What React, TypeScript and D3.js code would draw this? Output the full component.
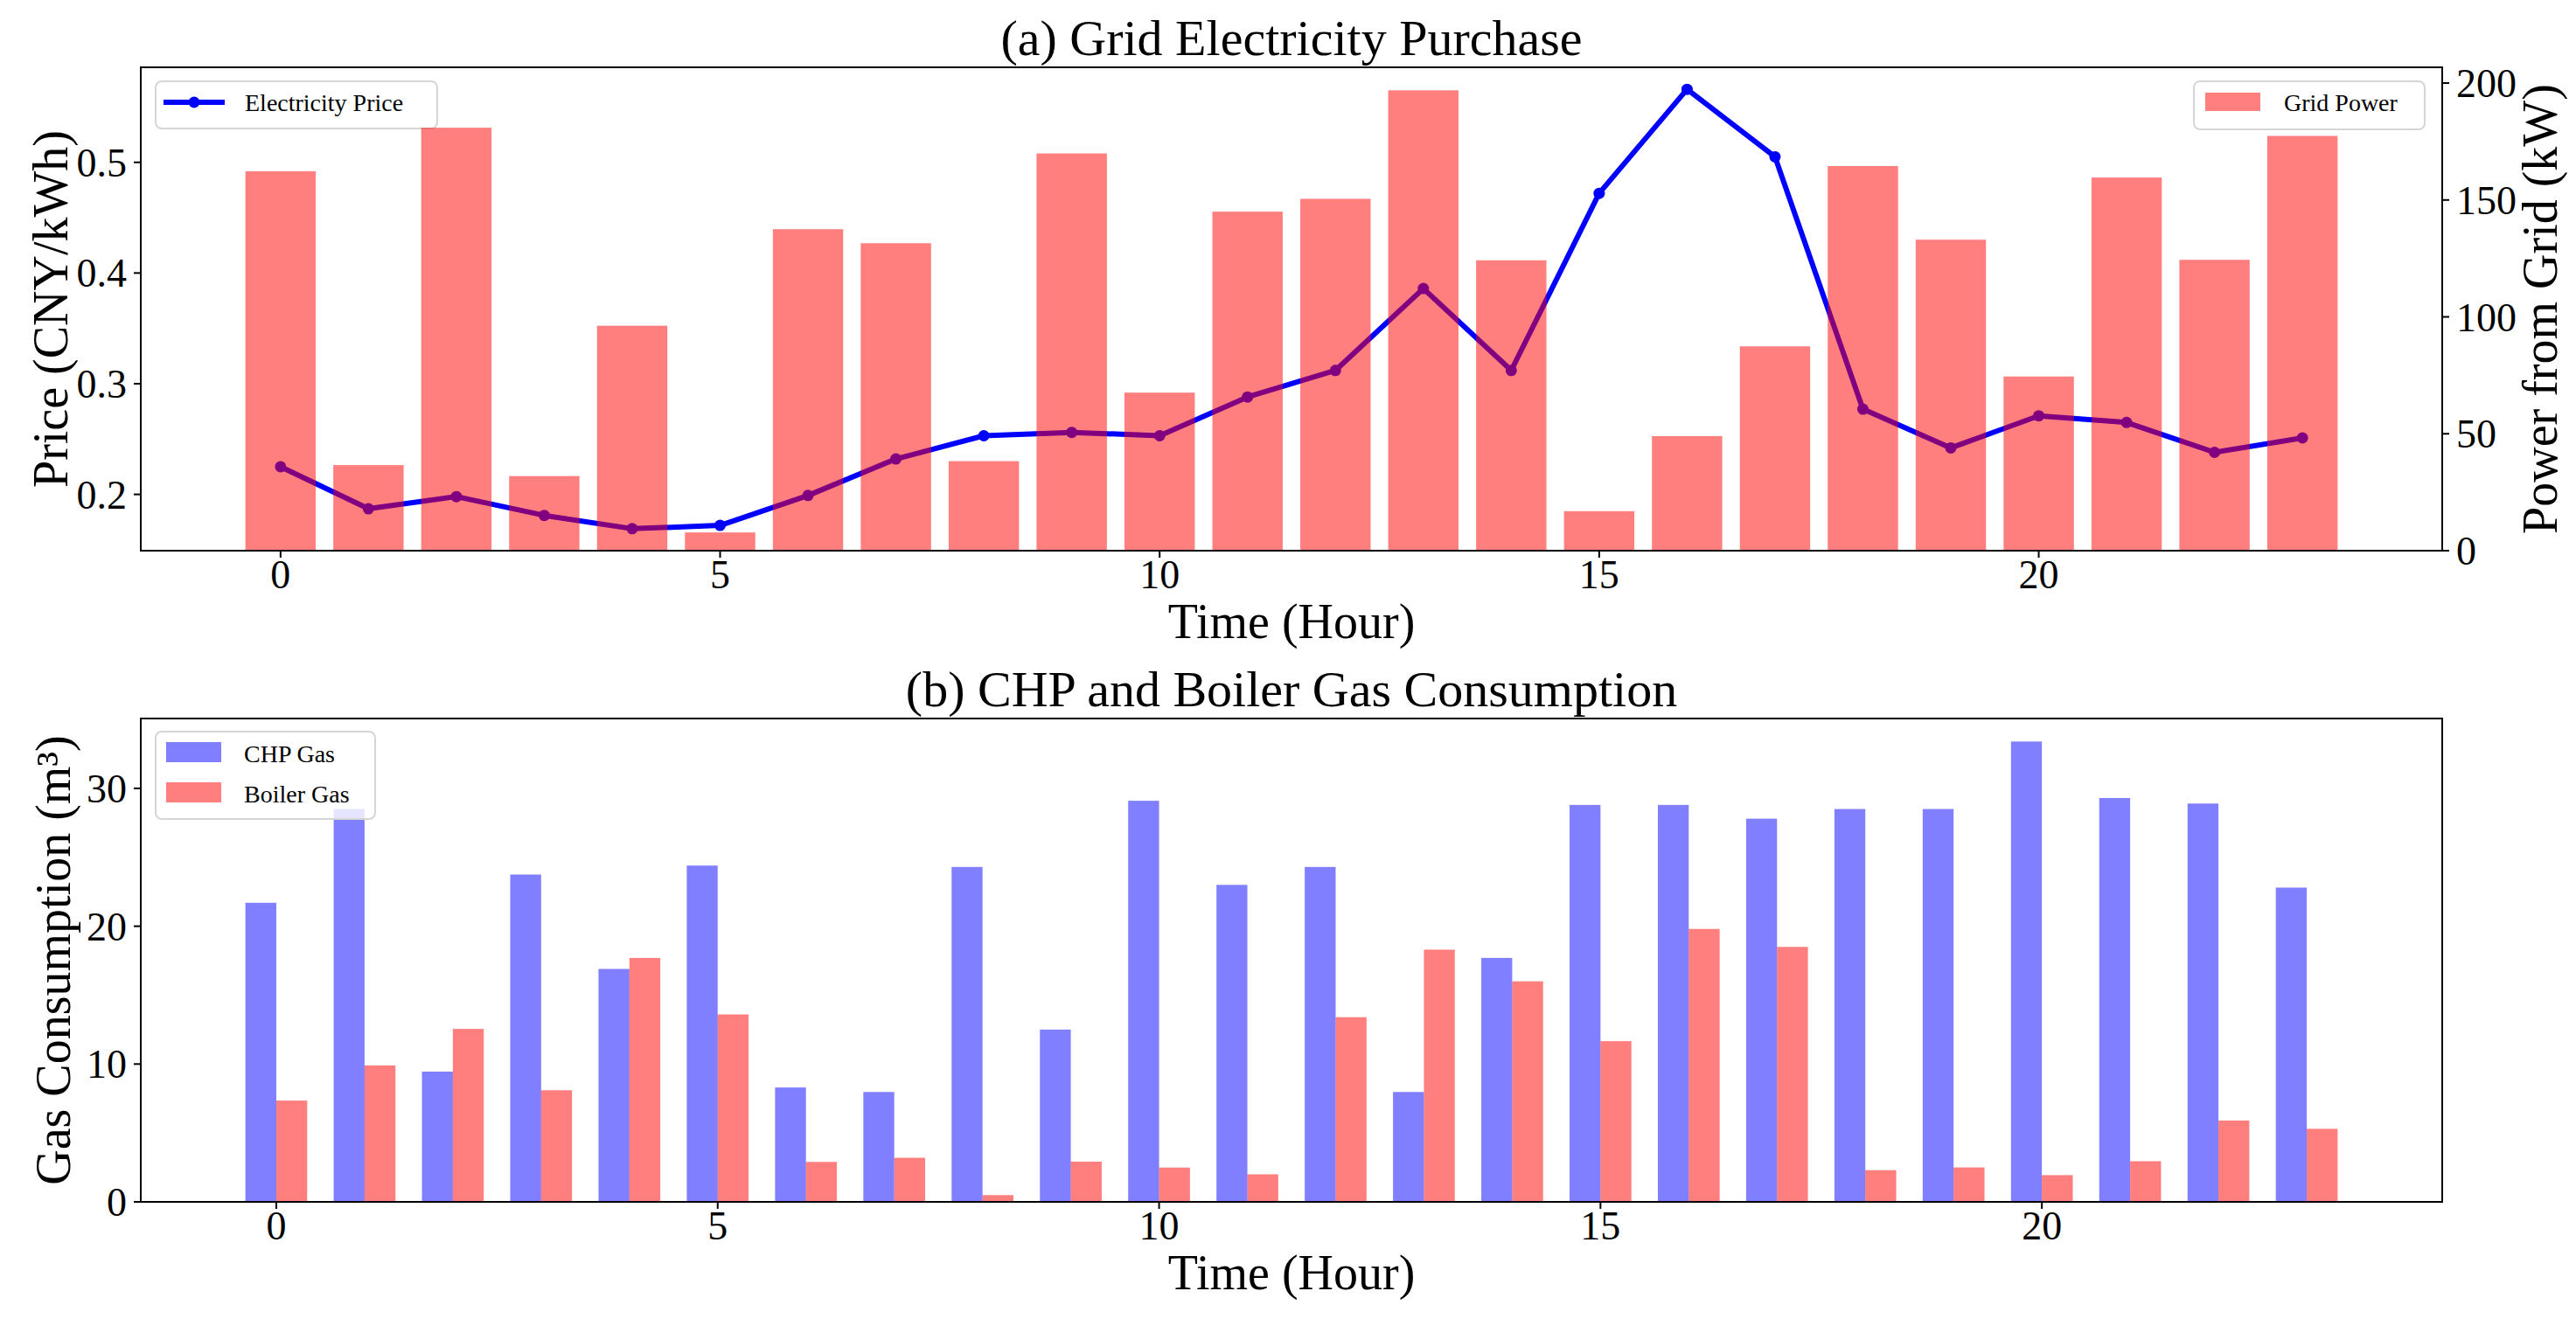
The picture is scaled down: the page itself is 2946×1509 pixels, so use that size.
import React from "react";
import * as d3 from "d3";

// hourly values
const hours: number[] = [0, 1, 2, 3, 4, 5, 6, 7, 8, 9, 10, 11, 12, 13, 14, 15, 16, 17, 18, 19, 20, 21, 22, 23];
const price: number[] = [
  0.225, 0.187, 0.198, 0.181, 0.169, 0.172, 0.199, 0.232, 0.253, 0.256, 0.253, 0.288,
  0.312, 0.386, 0.312, 0.472, 0.566, 0.505, 0.277, 0.242, 0.271, 0.265, 0.238, 0.251,
];
const gridPower: number[] = [
  162.3, 36.6, 180.9, 31.9, 96.2, 7.8, 137.5, 131.5, 38.3, 169.9, 67.6, 145.0,
  150.5, 196.9, 124.2, 16.9, 49.0, 87.4, 164.5, 133.0, 74.5, 159.6, 124.4, 177.4,
];
const chpGas: number[] = [
  21.7, 28.5, 9.45, 23.75, 16.9, 24.4, 8.3, 7.97, 24.3, 12.5, 29.1, 23.0,
  24.3, 7.97, 17.7, 28.8, 28.8, 27.8, 28.5, 28.5, 33.4, 29.3, 28.9, 22.8,
];
const boilerGas: number[] = [
  7.35, 9.9, 12.55, 8.1, 17.7, 13.6, 2.9, 3.2, 0.49, 2.92, 2.49, 2.0,
  13.4, 18.3, 16.0, 11.66, 19.8, 18.5, 2.3, 2.5, 1.94, 2.95, 5.9, 5.3,
];
const hourTicks: number[] = [0, 5, 10, 15, 20];
const priceTicks: number[] = [0.2, 0.3, 0.4, 0.5];
const powerTicks: number[] = [0, 50, 100, 150, 200];
const gasTicks: number[] = [0, 10, 20, 30];

const W = 2946;
const H = 1509;
const left = 161;
const right = 2793;
const top1 = 77;
const bottom1 = 630;
const top2 = 822;
const bottom2 = 1375;
const font = "'Liberation Serif', 'Times New Roman', serif";
const tickSize = 46;
const labelSize = 56;
const titleSize = 58;
const legendSize = 28;
const tickLen = 8;

// matplotlib-ish autoscale: data extent padded by 5% each side
const pad = (lo: number, hi: number): [number, number] => {
  const m = (hi - lo) * 0.05;
  return [lo - m, hi + m];
};

const XTicks = ({ x, y }: { x: d3.ScaleLinear<number, number>; y: number }) => (
  <g>
    {hourTicks.map((t) => (
      <g key={t}>
        <line x1={x(t)} x2={x(t)} y1={y} y2={y + tickLen} stroke="black" strokeWidth={2} />
        <text x={x(t)} y={y + 43} textAnchor="middle" fontSize={tickSize}>
          {t}
        </text>
      </g>
    ))}
  </g>
);

const YTicks = ({
  y,
  ticks,
  x0,
  side,
  fmt,
}: {
  y: d3.ScaleLinear<number, number>;
  ticks: number[];
  x0: number;
  side: "left" | "right";
  fmt: (v: number) => string;
}) => {
  const dir = side === "left" ? -1 : 1;
  return (
    <g>
      {ticks.map((t) => (
        <g key={t}>
          <line x1={x0} x2={x0 + dir * tickLen} y1={y(t)} y2={y(t)} stroke="black" strokeWidth={2} />
          <text
            x={x0 + dir * 16}
            y={y(t)}
            dy="0.35em"
            textAnchor={side === "left" ? "end" : "start"}
            fontSize={tickSize}
          >
            {fmt(t)}
          </text>
        </g>
      ))}
    </g>
  );
};

const App = (): React.JSX.Element => {
  // top panel
  const x1 = d3.scaleLinear(pad(-0.4, hours[hours.length - 1] + 0.4), [left, right]);
  const yPrice = d3.scaleLinear(pad(d3.min(price) as number, d3.max(price) as number), [bottom1, top1]);
  const yPower = d3.scaleLinear(pad(0, d3.max(gridPower) as number), [bottom1, top1]);
  yPower.domain([0, yPower.domain()[1]]);
  const priceLine = d3.line<number>((_d, i) => x1(hours[i]), (d) => yPrice(d));

  // bottom panel
  const bw = 0.35;
  const x2 = d3.scaleLinear(pad(-bw, hours[hours.length - 1] + bw), [left, right]);
  const yGas = d3.scaleLinear([0, pad(0, d3.max([...chpGas, ...boilerGas]) as number)[1]], [bottom2, top2]);

  const cx = (left + right) / 2;

  return (
    <svg
      width={W}
      height={H}
      style={{ position: "absolute", left: 0, top: 0, background: "white" }}
      fontFamily={font}
    >
      {/* ---------- (a) grid purchase ---------- */}
      <text x={cx} y={top1 - 14} textAnchor="middle" fontSize={titleSize}>
        (a) Grid Electricity Purchase
      </text>
      <path d={priceLine(price) as string} fill="none" stroke="blue" strokeWidth={6} strokeLinejoin="round" />
      <g fill="blue">
        {price.map((p, i) => (
          <circle key={i} cx={x1(hours[i])} cy={yPrice(p)} r={6.5} />
        ))}
      </g>
      {/* legend of the left axis */}
      <rect x={178} y={93} width={322} height={54} rx={7} fill="white" fillOpacity={0.8} stroke="#d6d6d6" strokeWidth={2} />
      <line x1={187} x2={257} y1={117} y2={117} stroke="blue" strokeWidth={6} />
      <circle cx={222} cy={117} r={6.5} fill="blue" />
      <text x={280} y={127} fontSize={legendSize}>
        Electricity Price
      </text>
      {/* twin axis bars drawn over the line */}
      <g fill="red" fillOpacity={0.5}>
        {gridPower.map((v, i) => (
          <rect
            key={i}
            x={x1(hours[i] - 0.4)}
            y={yPower(v)}
            width={x1(0.8) - x1(0)}
            height={yPower(0) - yPower(v)}
          />
        ))}
      </g>
      <rect x={2509} y={93} width={264} height={55} rx={7} fill="white" fillOpacity={0.8} stroke="#d6d6d6" strokeWidth={2} />
      <rect x={2522} y={106} width={63} height={21} fill="red" fillOpacity={0.5} />
      <text x={2612} y={127} fontSize={legendSize}>
        Grid Power
      </text>
      <rect x={left} y={top1} width={right - left} height={bottom1 - top1} fill="none" stroke="black" strokeWidth={2} />
      <XTicks x={x1} y={bottom1} />
      <YTicks y={yPrice} ticks={priceTicks} x0={left} side="left" fmt={d3.format(".1f")} />
      <YTicks y={yPower} ticks={powerTicks} x0={right} side="right" fmt={d3.format("d")} />
      <text x={cx} y={bottom1 + 100} textAnchor="middle" fontSize={labelSize}>
        Time (Hour)
      </text>
      <text transform={`translate(77,${(top1 + bottom1) / 2}) rotate(-90)`} textAnchor="middle" fontSize={labelSize}>
        Price (CNY/kWh)
      </text>
      <text transform={`translate(2924,${(top1 + bottom1) / 2}) rotate(-90)`} textAnchor="middle" fontSize={labelSize}>
        Power from Grid (kW)
      </text>

      {/* ---------- (b) gas consumption ---------- */}
      <text x={cx} y={top2 - 14} textAnchor="middle" fontSize={titleSize}>
        (b) CHP and Boiler Gas Consumption
      </text>
      <g fill="blue" fillOpacity={0.5}>
        {chpGas.map((v, i) => (
          <rect
            key={i}
            x={x2(hours[i] - bw)}
            y={yGas(v)}
            width={x2(bw) - x2(0)}
            height={yGas(0) - yGas(v)}
          />
        ))}
      </g>
      <g fill="red" fillOpacity={0.5}>
        {boilerGas.map((v, i) => (
          <rect
            key={i}
            x={x2(hours[i])}
            y={yGas(v)}
            width={x2(bw) - x2(0)}
            height={yGas(0) - yGas(v)}
          />
        ))}
      </g>
      <rect x={178} y={837} width={251} height={100} rx={7} fill="white" fillOpacity={0.8} stroke="#d6d6d6" strokeWidth={2} />
      <rect x={190} y={849} width={63} height={23} fill="blue" fillOpacity={0.5} />
      <text x={279} y={872} fontSize={legendSize}>
        CHP Gas
      </text>
      <rect x={190} y={895} width={63} height={23} fill="red" fillOpacity={0.5} />
      <text x={279} y={918} fontSize={legendSize}>
        Boiler Gas
      </text>
      <rect x={left} y={top2} width={right - left} height={bottom2 - top2} fill="none" stroke="black" strokeWidth={2} />
      <XTicks x={x2} y={bottom2} />
      <YTicks y={yGas} ticks={gasTicks} x0={left} side="left" fmt={d3.format("d")} />
      <text x={cx} y={bottom2 + 100} textAnchor="middle" fontSize={labelSize}>
        Time (Hour)
      </text>
      <text transform={`translate(80,${(top2 + bottom2) / 2}) rotate(-90)`} textAnchor="middle" fontSize={labelSize}>
        Gas Consumption (m³)
      </text>
    </svg>
  );
};

export default App;
